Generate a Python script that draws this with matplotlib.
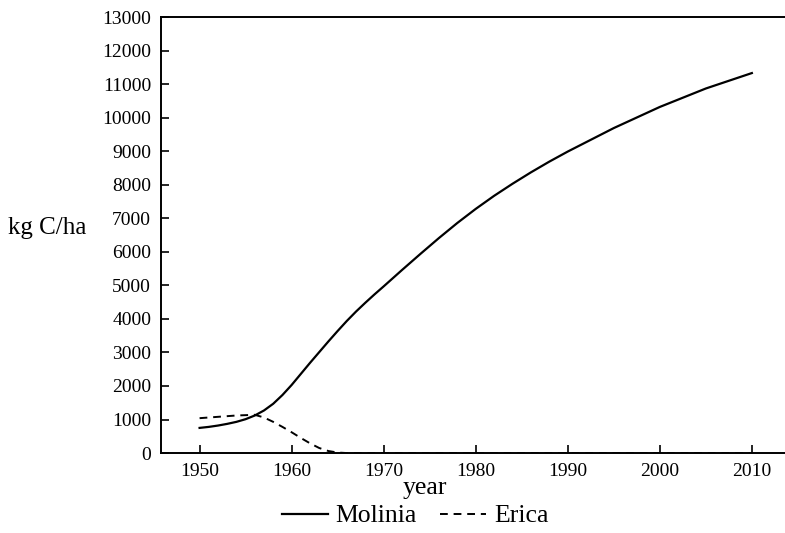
import matplotlib.pyplot as plt

years_mol = [1950, 1951, 1952, 1953, 1954, 1955, 1956, 1957, 1958, 1959, 1960,
             1961, 1962, 1963, 1964, 1965, 1966, 1967, 1968, 1969, 1970,
             1972, 1974, 1976, 1978, 1980, 1982, 1984, 1986, 1988, 1990,
             1995, 2000, 2005, 2010]
molinia = [750, 780, 820, 870, 930, 1010, 1120, 1270, 1470, 1730, 2030,
           2360, 2690, 3010, 3330, 3640, 3940, 4220, 4480, 4730, 4970,
           5460, 5940, 6410, 6860, 7280, 7670, 8030, 8370, 8690, 8990,
           9690, 10320, 10870, 11330]

years_eri = [1950, 1952, 1954, 1956, 1957, 1958, 1959, 1960, 1961, 1962,
             1963, 1964, 1965, 1966, 1970, 1980, 1990, 2000, 2010]
erica = [1040, 1080, 1120, 1140, 1060, 930, 780, 620, 450, 290,
         150, 60, 15, 0, 0, 0, 0, 0, 0]

plt.rcParams['font.family'] = 'Liberation Serif'

fig = plt.figure(figsize=(7.85, 5.33), dpi=100)
ax = fig.add_axes([0.205, 0.150, 0.795, 0.818])

l1, = ax.plot(years_mol, molinia, color='black', lw=1.6, label='Molinia')
l2, = ax.plot(years_eri, erica, color='black', lw=1.4, ls=(0, (4, 3)), label='Erica')

ax.set_xlim(1945.8, 2013.6)
ax.set_ylim(0, 13000)
ax.set_xticks([1950, 1960, 1970, 1980, 1990, 2000, 2010])
ax.set_yticks(range(0, 13001, 1000))
ax.tick_params(direction='in', length=6, width=1.2, labelsize=14, pad=7)
ax.spines['right'].set_visible(False)
for s in ['left', 'bottom', 'top']:
    ax.spines[s].set_linewidth(1.4)

fig.text(8 / 785, 1 - 228 / 533, 'kg C/ha', fontsize=18, va='center', ha='left')
fig.text(425 / 785, 1 - 488 / 533, 'year', fontsize=18.5, va='center', ha='center')

fig.legend(handles=[l1, l2], loc='center', bbox_to_anchor=(415 / 785, 1 - 516 / 533),
           ncol=2, frameon=False, fontsize=18.5, handlelength=1.8, columnspacing=0.9,
           handletextpad=0.3, borderpad=0)

fig.savefig('out.png', dpi=100)
